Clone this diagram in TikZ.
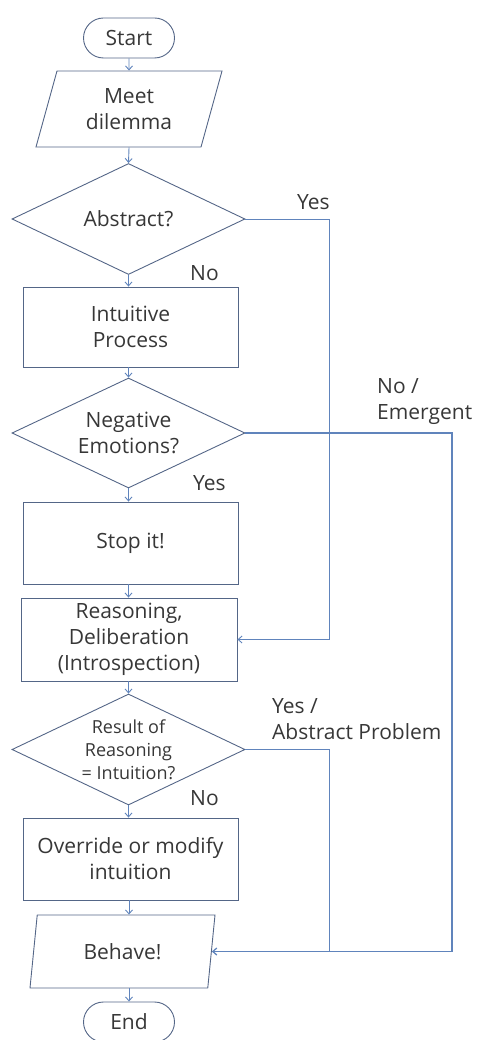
\documentclass[tikz,border=0pt]{standalone}
\usepackage{fontspec}
\setmainfont{Open Sans}
\usetikzlibrary{shapes.geometric,shapes.misc,arrows.meta}
\definecolor{shapeline}{RGB}{84,102,135}
\definecolor{conn}{RGB}{96,132,188}
\definecolor{txt}{RGB}{55,55,55}
\tikzset{
  base/.style={draw=shapeline, line width=0.9pt, text=txt, align=center, inner sep=0pt,
    font=\fontsize{21}{26}\selectfont},
  term/.style={base, rounded rectangle, minimum width=91pt, minimum height=40pt},
  io/.style={base, trapezium, trapezium stretches body},
  proc/.style={base, rectangle, minimum width=215pt, minimum height=81pt},
  decide/.style={base, diamond, aspect=2.1, minimum width=233pt, minimum height=111pt},
  arr/.style={draw=conn, line width=0.9pt, -{Straight Barb[length=4pt,width=7pt]}},
  plain/.style={draw=conn, line width=0.9pt},
  lbl/.style={text=txt, inner sep=0pt, align=left, font=\fontsize{21}{26}\selectfont}
}
\begin{document}
\begin{tikzpicture}[x=1pt,y=-1pt]
\useasboundingbox (0,0) rectangle (480,1040);
\node[term] (start) at (129,38) {Start};
\node[io, trapezium left angle=63, trapezium right angle=117, minimum width=186pt, minimum height=76pt] (meet) at (129,109) {Meet\\dilemma};
\node[decide] (abstract) at (128.5,219) {Abstract?};
\node[proc, minimum height=80pt] (intuitive) at (130.5,327) {Intuitive\\Process};
\node[decide, minimum height=110pt] (negative) at (128.5,433) {Negative\\Emotions?};
\node[proc, minimum height=82pt] (stop) at (130.5,543) {Stop it!};
\node[proc, minimum width=216pt, minimum height=83pt] (reasoning) at (129,639.5) {Reasoning,\\Deliberation\\(Introspection)};
\node[decide, font=\fontsize{18}{23}\selectfont] (result) at (128.5,749.5) {Result of\\Reasoning\\= Intuition?};
\node[proc, minimum height=82pt] (override) at (130.5,859) {Override or modify\\intuition};
\node[io, trapezium left angle=66, trapezium right angle=114, minimum width=185pt, minimum height=73pt] (behave) at (122.5,951.5) {Behave!};
\node[term] (end) at (129,1022) {End};

\coordinate (colA) at (329,0);
\coordinate (colB) at (452,0);

\draw[arr] (start.south) -- (meet.north);
\draw[arr] (meet.south) -- (abstract.north);
\draw[arr] (abstract.south) -- (abstract.south |- intuitive.north);
\draw[arr] (intuitive.south -| abstract.south) -- (negative.north);
\draw[arr] (negative.south) -- (negative.south |- stop.north);
\draw[arr] (stop.south -| negative.south) -- (negative.south |- reasoning.north);
\draw[arr] (reasoning.south -| result.north) -- (result.north);
\draw[arr] (result.south) -- (result.south |- override.north);
\draw[arr] (override.south -| end.north) -- (end.north |- behave.north);
\draw[arr] (end.north |- behave.south) -- (end.north);

\draw[arr] (abstract.east) -| (colA |- reasoning.east) -- (reasoning.east);
\draw[plain] (result.east) -| (colA |- behave.east);
\draw[arr, line width=1.3pt] (negative.east) -| (colB |- behave.east) -- (behave.east);

\node[lbl, anchor=base west] (yes1) at (297,210) {Yes};
\node[lbl, anchor=base west] (no1) at (190,280) {No};
\node[lbl, anchor=west] (no2) at (377,402) {No /\\Emergent};
\node[lbl, anchor=base west] (yes2) at (193,490) {Yes};
\node[lbl, anchor=west] (yes3) at (272,719) {Yes /\\Abstract Problem};
\node[lbl, anchor=base west] (no3) at (190,805) {No};
\end{tikzpicture}
\end{document}
